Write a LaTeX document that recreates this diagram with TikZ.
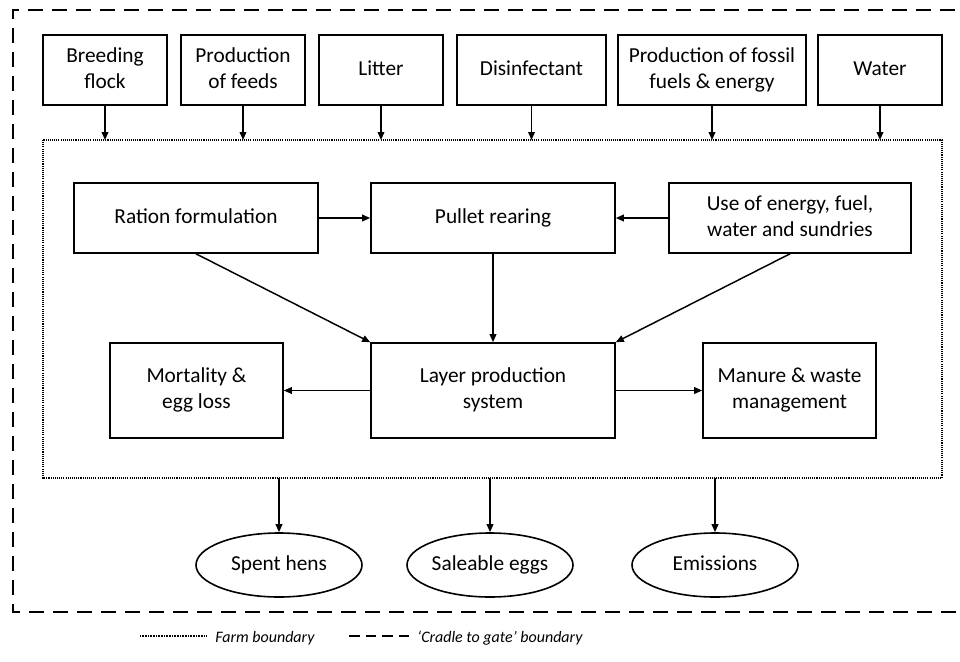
\documentclass[tikz,border=0pt]{standalone}
\usepackage{fontspec}
\setmainfont{Carlito}
\usetikzlibrary{arrows.meta,shapes.geometric}
\newcommand{\st}{\strut}
\begin{document}
\begin{tikzpicture}[x=0.75pt,y=-0.75pt,
  every node/.style={font=\fontsize{16}{19.5}\selectfont, align=center, inner sep=0pt},
  box/.style={draw, line width=1.2pt, minimum height=52.5pt},
  topbox/.style={box, minimum width=93pt},
  midbox/.style={box, minimum width=183pt},
  lowbox/.style={box, minimum height=71.25pt},
  outbox/.style={draw, ellipse, line width=1.2pt, minimum width=124.5pt, minimum height=48pt},
  arr/.style={line width=1.1pt, -{Triangle[length=6pt,width=5pt]}},
  farmline/.style={line width=1.3pt, dash pattern=on 0.8pt off 0.8pt},
  gateline/.style={line width=1.6pt, dash pattern=on 11.25pt off 6.75pt},
  legend/.style={font=\fontsize{12}{14}\itshape, anchor=west}
]
\useasboundingbox (0,0) rectangle (960,661);
\fill[white] (0,0) rectangle (960,661);
\begin{scope}
\clip (0,0) rectangle (960,661);
\draw[gateline] (980,612) -- (13,612) -- (13,10) -- (980,10);
\end{scope}

% farm boundary
\draw[farmline] (43,140) rectangle (942,478);
\coordinate (fb1) at (279,478);
\coordinate (fb2) at (490,478);
\coordinate (fb3) at (715,478);

% top inputs
\node[topbox] (breed) at (105,70) {\st Breeding\\\st flock};
\node[topbox] (feeds) at (243,70) {\st Production\\\st of feeds};
\node[topbox] (litter) at (381,70) {\st Litter};
\node[box, minimum width=111.75pt] (disinf) at (531.5,70) {\st Disinfectant};
\node[box, minimum width=141pt] (fossil) at (712,70) {\st Production of fossil\\\st fuels \& energy};
\node[topbox] (water) at (880,70) {\st Water};

\foreach \n in {breed,feeds,litter,disinf,fossil,water}{
  \draw[arr] (\n.south) -- (\n.south |- 0,140);
}

% middle row
\node[midbox] (ration) at (196,218) {\st Ration formulation};
\node[midbox] (pullet) at (493,218) {\st Pullet rearing};
\node[box, minimum width=181.5pt] (use) at (790,218) {\st Use of energy, fuel,\\\st water and sundries};

% bottom row
\node[lowbox, minimum width=129.75pt] (mort) at (196.5,390.5) {\st Mortality \&\\\st egg loss};
\node[lowbox, minimum width=183pt] (layer) at (493,390.5) {\st Layer production\\\st system};
\node[lowbox, minimum width=129.75pt] (manure) at (789.5,390.5) {\st Manure \& waste\\\st management};

\draw[arr] (ration.east) -- (pullet.west);
\draw[arr] (use.west) -- (pullet.east);
\draw[arr] (ration.south) -- (layer.north west);
\draw[arr] (pullet.south) -- (layer.north);
\draw[arr] (use.south) -- (layer.north east);
\draw[arr] (layer.west) -- (mort.east);
\draw[arr] (layer.east) -- (manure.west);

% outputs
\node[outbox] (spent) at (279,565) {\st Spent hens};
\node[outbox] (eggs) at (490,565) {\st Saleable eggs};
\node[outbox] (emis) at (715,565) {\st Emissions};
\draw[arr] (fb1) -- (spent.north);
\draw[arr] (fb2) -- (eggs.north);
\draw[arr] (fb3) -- (emis.north);

% legend
\coordinate (l1a) at (140,636);
\coordinate (l1b) at (207,636);
\draw[line width=0.9pt, dash pattern=on 0.6pt off 0.6pt] (l1a) -- (l1b);
\node[legend] (farmtxt) at (215,638) {Farm boundary};
\coordinate (l2a) at (349,636);
\coordinate (l2b) at (409,636);
\draw[line width=1.4pt, dash pattern=on 8pt off 4.5pt] (l2a) -- (l2b);
\node[legend] (gatetxt) at (417,638) {‘Cradle to gate’ boundary};
\end{tikzpicture}
\end{document}
